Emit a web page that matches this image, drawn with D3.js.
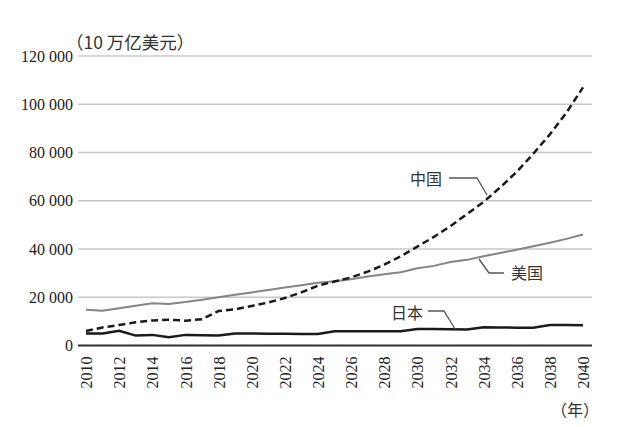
<!DOCTYPE html>
<html>
<head>
<meta charset="utf-8">
<script src="https://cdn.jsdelivr.net/npm/d3@7"></script>
<style>
  body { margin: 0; background: #fff; }
</style>
</head>
<body>
<svg id="chart" width="641" height="427"></svg>
<script>
const years = d3.range(2010, 2041)
const china = [6000, 7500, 8500, 9600, 10400, 10700, 10300, 10900, 14300, 15000,
    16400, 17800, 19700, 22000, 24800, 26500, 28200, 30600, 33500, 37000,
    41000, 45000, 49500, 54500, 59500, 65500, 72000, 79500, 87500, 96500, 107000]
const usa = [14800, 14400, 15400, 16500, 17500, 17200, 18000, 19000, 20000, 21000,
    22000, 23000, 24000, 25000, 26000, 26600, 27500, 28600, 29500, 30400,
    32000, 33000, 34600, 35500, 37000, 38300, 39700, 41100, 42600, 44200, 46000]
const japan = [5000, 5000, 6100, 4100, 4400, 3400, 4400, 4300, 4100, 5000,
    5000, 4900, 4900, 4800, 4800, 5900, 5900, 5900, 5900, 5900,
    6800, 6800, 6700, 6600, 7600, 7500, 7400, 7400, 8500, 8500, 8400]
const yTicks = [0, 20000, 40000, 60000, 80000, 100000, 120000]
const xTicks = d3.range(2010, 2041, 2)

const serif = '"Liberation Serif", "Times New Roman", serif'
const cjk = '"Noto Sans CJK SC", sans-serif'

const chart = d3.select('#chart')
const x = d3.scaleLinear().domain([2010, 2040]).range([86, 583])
const y = d3.scaleLinear().domain([0, 120000]).range([345.5, 56])
const fmt = v => v === 0 ? '0' : d3.format(',')(v).replace(/,/g, ' ')

// gridlines
chart.selectAll()
    .data(yTicks.filter(d => d > 0))
    .enter()
    .append('line')
    .attr('x1', 78).attr('x2', 592)
    .attr('y1', d => y(d)).attr('y2', d => y(d))
    .attr('stroke', '#c8c8c8')
    .attr('stroke-width', 1.5)

// y axis labels
const yAxis = d3.axisLeft(y).tickValues(yTicks).tickFormat(fmt).tickSize(0).tickPadding(5)
chart.append('g')
    .attr('transform', 'translate(78, 0)')
    .call(yAxis)
    .call(g => g.select('.domain').remove())
    .call(g => g.attr('font-family', serif).attr('font-size', 16))
    .selectAll('text').attr('fill', '#222')

// x axis
const xAxis = d3.axisBottom(x).tickValues(xTicks).tickFormat(d3.format('d')).tickSize(0)
chart.append('g')
    .attr('transform', `translate(0, ${y(0)})`)
    .call(xAxis)
    .call(g => g.select('.domain').remove())
    .call(g => g.attr('font-family', serif).attr('font-size', 16))
    .selectAll('text')
    .attr('fill', '#222')
    .attr('transform', 'rotate(-90)')
    .attr('text-anchor', 'end')
    .attr('x', -11)
    .attr('y', 0)
    .attr('dy', '0.35em')

chart.append('line')
    .attr('x1', 78).attr('x2', 592)
    .attr('y1', y(0)).attr('y2', y(0))
    .attr('stroke', '#333')
    .attr('stroke-width', 2)

// lines
const line = vals => d3.line().x((d, i) => x(years[i])).y(d => y(d))(vals)
chart.append('path').attr('d', line(usa))
    .attr('fill', 'none').attr('stroke', '#858585').attr('stroke-width', 2)
chart.append('path').attr('d', line(japan))
    .attr('fill', 'none').attr('stroke', '#1a1a1a').attr('stroke-width', 2.5)
chart.append('path').attr('d', line(china))
    .attr('fill', 'none').attr('stroke', '#1a1a1a').attr('stroke-width', 2.5)
    .attr('stroke-dasharray', '7,4')

// labels and leaders
const labels = [
    {text: '中国', tx: 410, ty: 179, path: [[449, 178], [477, 178], [487, 195]]},
    {text: '美国', tx: 511, ty: 273, path: [[504, 273], [489, 273], [479, 259]]},
    {text: '日本', tx: 391, ty: 313, path: [[428, 311], [444, 311], [455, 329]]}
]
labels.forEach(l => {
    chart.append('text')
        .attr('font-family', cjk).attr('font-size', 16).attr('fill', '#333')
        .attr('x', l.tx).attr('y', l.ty).attr('dy', '0.35em').text(l.text)
    chart.append('path').attr('d', d3.line()(l.path))
        .attr('fill', 'none').attr('stroke', '#555').attr('stroke-width', 1.3)
})

chart.append('text')
    .attr('font-family', cjk).attr('font-size', 17.5).attr('fill', '#333')
    .attr('x', 66).attr('y', 43).attr('dy', '0.35em')
    .text('（10 万亿美元）')
chart.append('text')
    .attr('font-family', cjk).attr('font-size', 16).attr('fill', '#333')
    .attr('x', 551).attr('y', 410).attr('dy', '0.35em')
    .text('（年）')
</script>
</body>
</html>
